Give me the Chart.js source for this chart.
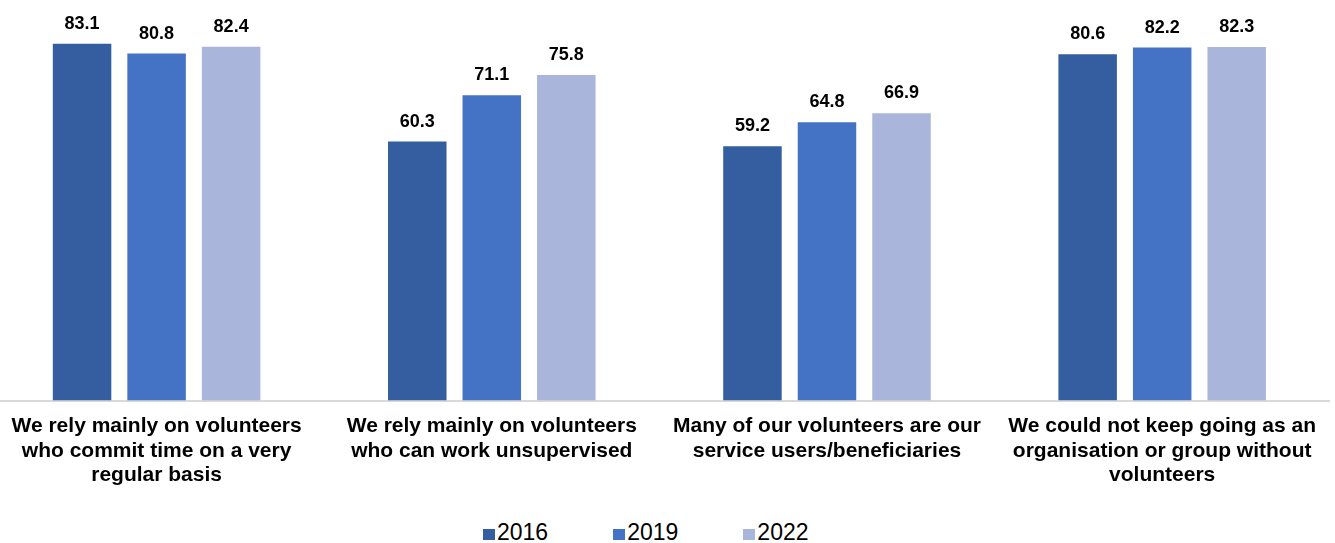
<!DOCTYPE html>
<html>
<head>
<meta charset="utf-8">
<script src="https://cdn.jsdelivr.net/npm/chart.js@4/dist/chart.umd.min.js"></script>
<style>
  html, body { margin: 0; padding: 0; background: #fff; overflow: hidden; }
  #wrap { position: relative; width: 1341px; height: 501px; margin-left: -11px; }
  #legend {
    position: absolute; top: 519px; left: 483px;
    display: flex; align-items: center;
    font-family: "Liberation Sans", Arial, sans-serif; font-size: 23px; color: #000;
  }
  .item { display: flex; align-items: center; margin-right: 65px; }
  .box { width: 12px; height: 11px; margin-right: 2px; margin-top: 3px; }
</style>
</head>
<body>
<div id="wrap"><canvas id="chart"></canvas></div>
<div id="legend"></div>
<script>
const categories = [
  ["We rely mainly on volunteers", "who commit time on a very", "regular basis"],
  ["We rely mainly on volunteers", "who can work unsupervised"],
  ["Many of our volunteers are our", "service users/beneficiaries"],
  ["We could not keep going as an", "organisation or group without", "volunteers"]
];
const seriesNames = ["2016", "2019", "2022"];
const values2016 = [83.1, 60.3, 59.2, 80.6];
const values2019 = [80.8, 71.1, 64.8, 82.2];
const values2022 = [82.4, 75.8, 66.9, 82.3];
const colors = ["#355EA1", "#4472C4", "#A9B5DB"];

// draws the bold value above each bar
const valueLabels = {
  id: "valueLabels",
  afterDatasetsDraw(chart) {
    const ctx = chart.ctx;
    ctx.save();
    ctx.font = "bold 18px 'Liberation Sans', Arial, sans-serif";
    ctx.fillStyle = "#000";
    ctx.textAlign = "center";
    ctx.textBaseline = "alphabetic";
    chart.data.datasets.forEach((ds, i) => {
      chart.getDatasetMeta(i).data.forEach((bar, j) => {
        ctx.fillText(ds.data[j].toFixed(1), bar.x, bar.y - 15);
      });
    });
    ctx.restore();
  }
};

const allValues = [values2016, values2019, values2022];
const chart = new Chart(document.getElementById("chart"), {
  type: "bar",
  data: {
    labels: categories,
    datasets: seriesNames.map((name, i) => ({
      label: name,
      data: allValues[i],
      backgroundColor: colors[i],
      categoryPercentage: 0.667,
      barPercentage: 0.785
    }))
  },
  options: {
    responsive: true,
    maintainAspectRatio: false,
    animation: false,
    layout: { padding: { top: 14, left: 0, right: 0, bottom: 0 } },
    plugins: {
      legend: { display: false },
      tooltip: { enabled: false }
    },
    scales: {
      x: {
        grid: { display: false, drawTicks: false },
        border: { display: true, color: "#d9d9d9", width: 2 },
        ticks: {
          color: "#000",
          padding: 14,
          maxRotation: 0,
          autoSkip: false,
          font: { family: "'Liberation Sans', Arial, sans-serif", size: 21, weight: "bold", lineHeight: 1.15 }
        }
      },
      y: {
        display: false,
        min: 0,
        max: 90
      }
    }
  },
  plugins: [valueLabels]
});

const legendEl = document.getElementById("legend");
legendEl.innerHTML = seriesNames
  .map((name, i) => `<div class="item"><span class="box" style="background:${colors[i]}"></span><span>${name}</span></div>`)
  .join("");
</script>
</body>
</html>
